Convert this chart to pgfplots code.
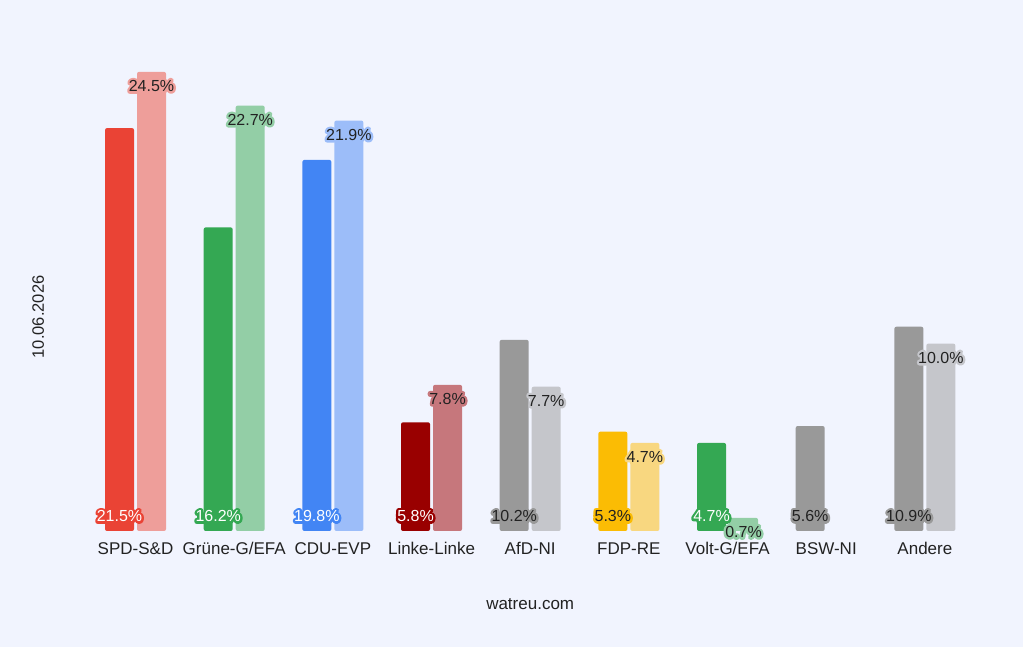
\documentclass[border=0pt]{standalone}
\usepackage{pgfplots}
\pgfplotsset{compat=1.18}
\usepackage{fontspec}
\setmainfont{Liberation Sans}
\newfontfamily\halofont{Liberation Sans}[FakeBold=30]
\definecolor{bg}{HTML}{F1F4FE}
\definecolor{txt}{HTML}{222222}
\definecolor{spdC}{HTML}{EA4335}\definecolor{spdP}{HTML}{EE9E9A}
\definecolor{gruC}{HTML}{34A853}\definecolor{gruP}{HTML}{93CEA6}
\definecolor{cduC}{HTML}{4285F4}\definecolor{cduP}{HTML}{9CBDF9}
\definecolor{linC}{HTML}{990000}\definecolor{linP}{HTML}{C6777C}
\definecolor{gryC}{HTML}{999999}\definecolor{gryP}{HTML}{C5C6CB}
\definecolor{fdpC}{HTML}{FBBC04}\definecolor{fdpP}{HTML}{F8D780}
\newcommand\halo[3]{\rlap{\color{#1}\halofont #3}{\color{#2}#3}}
\newcommand\val{\pgfmathprintnumber[fixed,fixed zerofill,precision=1]{\pgfplotspointmeta}\%}
\pgfplotsset{
  cur/.style={ybar, bar width=29pt, bar shift=-16pt, draw=none, rounded corners=2pt, point meta=y,
    visualization depends on={rawy \as \rawyval},
    every node near coord/.append style={anchor=center, font=\fontsize{16}{19}\selectfont, rounded corners=0pt, line join=round, line cap=round, xshift=-16pt, yshift={15pt-18.74pt*\rawyval}}},
  prev/.style={ybar, bar width=29pt, bar shift=16pt, draw=none, rounded corners=2pt, point meta=y,
    every node near coord/.append style={anchor=center, font=\fontsize{16}{19}\selectfont, rounded corners=0pt, line join=round, line cap=round, xshift=16pt, yshift=-14pt}},
}
\begin{document}
\begin{tikzpicture}
\fill[bg] (0,0) rectangle (1023pt,647pt);
\begin{axis}[
  at={(86.2pt,116pt)}, anchor=south west, scale only axis,
  width=888pt, height=468.5pt,
  xmin=-0.5, xmax=8.5, ymin=0, ymax=25, clip=false,
  axis line style={draw=none}, major tick length=0pt,
  ytick=\empty, xtick={0,...,8},
  xticklabels={SPD-S\&D, Grüne-G/EFA, CDU-EVP, Linke-Linke, AfD-NI, FDP-RE, Volt-G/EFA, BSW-NI, Andere},
  xticklabel style={font=\fontsize{17}{20}\selectfont, text=txt, yshift=-8pt},
  xlabel={watreu.com}, ylabel={10.06.2026},
  label style={text=txt},
  xlabel style={font=\fontsize{17}{20}\selectfont, at={(axis description cs:0.5,0)}, anchor=center, yshift=-73pt},
  ylabel style={font=\fontsize{16.5}{19}\selectfont, at={(axis description cs:-0.054,0.457)}, anchor=center},
  /pgf/number format/assume math mode=true,
]
% SPD
\addplot[cur, fill=spdC, nodes near coords={\halo{spdC}{white}{\val}}] coordinates {(0,21.5)};
\addplot[prev, fill=spdP, nodes near coords={\halo{spdP}{txt}{\val}}] coordinates {(0,24.5)};
% Gruene
\addplot[cur, fill=gruC, nodes near coords={\halo{gruC}{white}{\val}}] coordinates {(1,16.2)};
\addplot[prev, fill=gruP, nodes near coords={\halo{gruP}{txt}{\val}}] coordinates {(1,22.7)};
% CDU
\addplot[cur, fill=cduC, nodes near coords={\halo{cduC}{white}{\val}}] coordinates {(2,19.8)};
\addplot[prev, fill=cduP, nodes near coords={\halo{cduP}{txt}{\val}}] coordinates {(2,21.9)};
% Linke
\addplot[cur, fill=linC, nodes near coords={\halo{linC}{white}{\val}}] coordinates {(3,5.8)};
\addplot[prev, fill=linP, nodes near coords={\halo{linP}{txt}{\val}}] coordinates {(3,7.8)};
% AfD
\addplot[cur, fill=gryC, nodes near coords={\halo{gryC}{txt}{\val}}] coordinates {(4,10.2)};
\addplot[prev, fill=gryP, nodes near coords={\halo{gryP}{txt}{\val}}] coordinates {(4,7.7)};
% FDP
\addplot[cur, fill=fdpC, nodes near coords={\halo{fdpC}{txt}{\val}}] coordinates {(5,5.3)};
\addplot[prev, fill=fdpP, nodes near coords={\halo{fdpP}{txt}{\val}}] coordinates {(5,4.7)};
% Volt
\addplot[cur, fill=gruC, nodes near coords={\halo{gruC}{white}{\val}}] coordinates {(6,4.7)};
\addplot[prev, fill=gruP, nodes near coords={\halo{gruP}{txt}{\val}}] coordinates {(6,0.7)};
% BSW
\addplot[cur, fill=gryC, nodes near coords={\halo{gryC}{txt}{\val}}] coordinates {(7,5.6)};
% Andere
\addplot[cur, fill=gryC, nodes near coords={\halo{gryC}{txt}{\val}}] coordinates {(8,10.9)};
\addplot[prev, fill=gryP, nodes near coords={\halo{gryP}{txt}{\val}}] coordinates {(8,10.0)};
\end{axis}
\pgfresetboundingbox
\path[use as bounding box] (0,0) rectangle (1023pt,647pt);
\end{tikzpicture}
\end{document}
